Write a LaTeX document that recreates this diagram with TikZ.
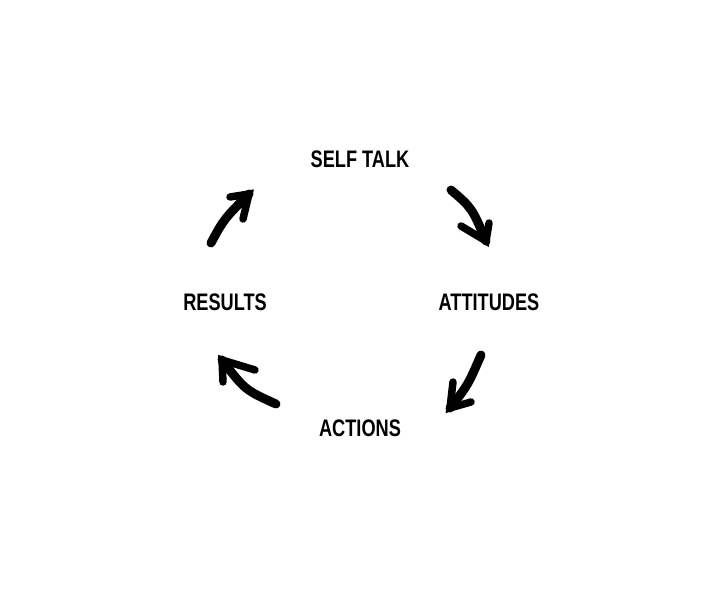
\documentclass[tikz,border=0pt]{standalone}
\usepackage{fontspec}
\setmainfont{Liberation Sans}
\usetikzlibrary{positioning}

\tikzset{
  word/.style={font=\fontsize{24}{24}\selectfont\bfseries, inner sep=0pt},
  brush/.style={line width=9pt, line cap=round, line join=round},
  barb/.style={line width=7.5pt, line cap=round, line join=miter}
}
\newcommand{\squeeze}[1]{\scalebox{0.76}[1]{#1}}

\begin{document}
\begin{tikzpicture}[x=1bp,y=-1bp]
            \useasboundingbox (0,0) rectangle (720,604);
            % labels
            \node[word] (talk) at (360,159) {\squeeze{SELF TALK}};
            \node[word] (att) at (489,302) {\squeeze{ATTITUDES}};
            \node[word] (act) at (360,428) {\squeeze{ACTIONS}};
            \node[word] (res) at (225,302) {\squeeze{RESULTS}};
            % arrow points
            \coordinate (t1) at (211,243);
            \coordinate (h1) at (249,194);
            \coordinate (t2) at (451,190);
            \coordinate (h2) at (486,241);
            \coordinate (t3) at (481,355);
            \coordinate (h3) at (450,408);
            \coordinate (t4) at (276,404);
            \coordinate (h4) at (222,360);
            % shafts
            \draw[brush] (t1) .. controls (224,219) .. (h1);
            \draw[brush] (t2) .. controls (472,208) .. (h2);
            \draw[brush] (t3) .. controls (468,385) .. (h3);
            \draw[brush] (t4) .. controls (245,390) .. (h4);
            % heads
            \draw[barb] (230,197) -- (h1) -- (243,219);
            \draw[barb] (461,226) -- (h2) -- (489,223);
            \draw[barb] (453,382) -- (h3) -- (471,402);
            \draw[barb] (223,382) -- (h4) -- (255,370);
        \end{tikzpicture}
\end{document}
